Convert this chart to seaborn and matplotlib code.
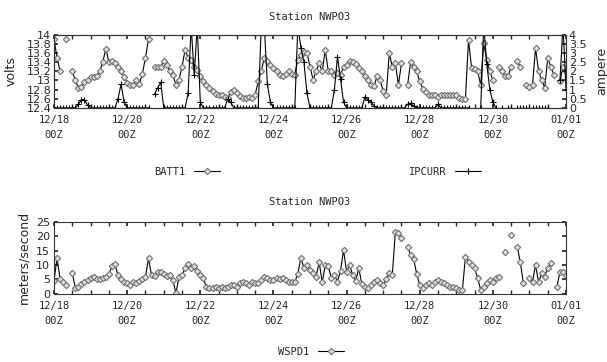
import numpy as np
import pandas as pd
import matplotlib
matplotlib.use("Agg")
import matplotlib.pyplot as plt
from matplotlib.lines import Line2D
from matplotlib.ticker import MultipleLocator, FormatStrFormatter
import seaborn as sns

nan = np.nan

# Station readings, one every two hours starting 12/18 00Z
station = "Station NWPO3"
day_labels = ["12/18", "12/20", "12/22", "12/24", "12/26", "12/28", "12/30", "01/01"]
hours = np.arange(0, 337, 2)

# battery voltage (volts)
batt1 = [
    13.9, 13.5, 13.2, nan, 13.9, nan, 13.2, 13.0, 12.83, 12.86, 12.97, 13.02,       # 12/18
    13.07, 13.08, 13.1, 13.2, 13.4, 13.7, 13.4, 13.42, 13.38, 13.3, 13.2, 13.08,     # 12/19
    12.95, 12.9, 12.9, 13.0, 12.93, 13.15, 13.5, 13.9, nan, 13.3, 13.3, 13.3,        # 12/20
    13.42, 13.35, 13.2, 13.13, 12.9, 13.02, 13.3, 13.67, 13.5, 13.45, 13.3, 13.22,   # 12/21
    13.09, 12.98, 12.9, 12.84, 12.77, 12.7, 12.69, 12.68, 12.64, 12.62, 12.75, 12.8, # 12/22
    12.72, 12.65, 12.62, 12.62, 12.63, 12.62, 12.69, 12.98, 13.2, 13.5, 13.42, 13.35,# 12/23
    13.27, 13.2, 13.13, 13.09, 13.15, 13.2, 13.15, 13.13, 13.45, 13.55, 13.62, 13.6, # 12/24
    13.3, 13.02, 13.2, 13.38, 13.2, 13.67, 13.2, 13.2, 13.13, 13.16, 13.13, 13.3,    # 12/25
    13.35, 13.42, 13.4, 13.36, 13.28, 13.2, 13.1, 13.02, 12.9, 12.87, 13.1, 13.0,    # 12/26
    12.78, 12.69, 13.6, 13.3, 13.38, 12.9, 13.38, nan, 12.9, 13.4, 13.3, 13.2,       # 12/27
    12.98, 12.82, 12.74, 12.69, 12.69, 12.69, 12.64, 12.69, 12.69, 12.69, 12.69, 12.69, # 12/28
    12.69, 12.62, 12.6, 12.6, 13.89, 13.28, 13.25, 13.2, 12.9, 13.82, 13.45, 13.2,   # 12/29
    13.0, nan, 13.3, 13.2, 13.1, 13.1, 13.3, nan, 13.42, 13.3, nan, 12.9,            # 12/30
    12.85, 12.9, 13.71, 13.2, 13.02, 12.84, 13.49, 13.3, 13.13, nan, 12.98, 13.3,    # 12/31
    13.2,                                                                             # 01/01
]

# charging current (ampere)
ipcurr = [
    0, 0, 0, 0, 0, 0, 0, 0, 0.2, 0.45, 0.45, 0.15,
    0, 0, 0, 0, 0, 0, 0, 0, 0, 0.5, 1.3, 0.3,
    0, 0, 0, 0, 0, 0, 0, 0, nan, 0.75, 1.1, 1.4,
    0, 0, 0, 0, 0, 0, 0, 0, 0.8, 4.5, 1.8, 4.5,
    0.3, 0, 0, 0, 0, 0, 0, 0, 0, 0.5, 0.3, 0,
    0, 0, 0, 0, 0, 0, 0, 0, 4.5, 4.5, 1.3, 0.3,
    0, 0, 0, 0, 0, 0, 0, 0, 4.5, 3.3, 2.5, 0.8,
    0, 0, 0, 0, 0, 0, 0, 0, 1.0, 2.8, 1.6, 0.3,
    0, 0, 0, 0, 0, 0, 0.6, 0.45, 0.3, 0.1, 0, 0,
    0, 0, 0, 0, 0, 0, 0, 0, 0.2, 0.25, 0.1, 0,
    0, 0, 0, 0, 0, 0, 0.2, 0, 0, 0, 0, 0,
    0, 0, 0, 0, 0, nan, nan, nan, 0, 4.5, 2.4, 1.0,
    0.3, 0, nan, 0, nan, 0, 0, nan, 0, 0, 0, 0,
    0, 0, 0, 0, 0, 0, 0, nan, nan, nan, 1.5, 4.5,
    1.0,
]

# wind speed (meters/second)
wspd1 = [
    4.5, 12.5, 5.0, 4.3, 3.1, nan, 7.1, 2.0, 2.5, 3.5, 4.3, 4.8,
    5.5, 6.0, 5.2, 5.3, 5.5, 6.0, 7.0, 9.5, 10.2, 6.5, 5.3, 4.3,
    3.7, 3.1, 4.0, 3.7, 4.5, 5.2, 6.0, 12.3, 6.5, 6.3, 7.5, 7.7,
    7.0, 6.2, 6.5, 4.8, 0.3, 5.9, 6.5, 8.9, 10.5, 9.0, 9.5, 8.0,
    6.5, 5.4, 2.3, 2.0, 2.0, 2.5, 2.0, 2.5, 2.0, 2.5, 3.1, 3.1,
    2.5, 3.8, 4.3, 3.7, 3.2, 4.3, 3.8, 3.7, 4.8, 6.0, 5.4, 4.8,
    4.8, 5.4, 5.3, 5.5, 4.8, 4.3, 4.3, 4.2, 7.0, 12.5, 9.0, 10.0,
    8.3, 7.1, 6.0, 11.0, 4.0, 10.0, 9.5, 5.6, 6.5, 4.3, 8.0, 15.2,
    7.7, 10.0, 6.5, 4.5, 8.9, 3.5, 2.5, 2.0, 3.0, 4.3, 4.8, 3.7,
    3.1, 5.0, 7.1, 6.6, 21.5, 21.0, 19.2, nan, 16.4, 13.5, 12.0, 7.0,
    3.1, 2.0, 3.0, 3.7, 3.1, 4.2, 4.8, 4.3, 3.7, 3.1, 2.5, 2.5,
    2.0, 1.4, 1.4, 12.9, 11.2, 10.0, 8.9, 5.5, 1.4, 2.5, 3.7, 4.8,
    4.3, 5.4, 5.8, nan, 14.5, nan, 20.4, nan, 16.4, 11.0, 3.7, nan,
    5.4, 4.3, 10.0, 4.0, 7.1, 6.0, 8.9, 10.6, nan, 2.5, 7.5, 7.7,
    6.6,
]

DIAMOND = dict(marker="D", markersize=3.2, markerfacecolor="#e0e0e0",
               markeredgecolor="#707070", markeredgewidth=0.8)
PLUS = dict(marker="+", markersize=5, markeredgecolor="black", markeredgewidth=0.8)
MONO = "DejaVu Sans Mono"


def draw(ax, values, style):
    # missing readings break the line, so each unbroken run is its own unit
    df = pd.DataFrame({"t": hours, "v": values})
    df["seg"] = df["v"].isna().cumsum()
    df = df.dropna()
    sns.lineplot(data=df, x="t", y="v", units="seg", estimator=None, ax=ax,
                 color="black", linewidth=0.8, legend=False, **style)


def style_x(ax):
    ax.set_xlim(0, 336)
    ticks = np.arange(0, 337, 48)
    ax.set_xticks(ticks, [f"{d}\n00Z" for d in day_labels])
    ax.xaxis.set_minor_locator(MultipleLocator(12))
    for lab in ax.get_xticklabels():
        lab.set_linespacing(1.7)
        lab.set_fontfamily(MONO)
    ax.set_xlabel("")
    ax.tick_params(axis="x", which="both", direction="in", top=True, length=3,
                   pad=5, labelsize=7.5)


def main():
    sns.set_theme(style="ticks")
    plt.rcParams["font.family"] = ["DejaVu Sans"]
    plt.rcParams["font.size"] = 7.5
    plt.rcParams["axes.linewidth"] = 0.8

    fig = plt.figure(figsize=(6.07, 3.62), dpi=100)
    ax1 = fig.add_axes([0.089, 0.702, 0.8435, 0.2017])
    ax2 = ax1.twinx()
    ax3 = fig.add_axes([0.089, 0.188, 0.8435, 0.1997])

    # === top panel: battery and current ===
    draw(ax2, ipcurr, PLUS)
    draw(ax1, batt1, DIAMOND)
    ax1.set_ylim(12.4, 14)
    ax1.yaxis.set_major_locator(MultipleLocator(0.2))
    ax1.yaxis.set_major_formatter(FormatStrFormatter("%g"))
    ax2.set_ylim(0, 4)
    ax2.yaxis.set_major_locator(MultipleLocator(0.5))
    ax2.yaxis.set_major_formatter(FormatStrFormatter("%g"))
    ax1.set_ylabel("volts", fontsize=9, labelpad=6)
    ax2.set_ylabel("ampere", fontsize=9, labelpad=6)
    ax1.tick_params(axis="y", direction="in", length=3, labelsize=8, pad=2)
    ax2.tick_params(axis="y", direction="in", length=3, labelsize=8, pad=2)
    style_x(ax1)
    ax1.set_title(station, fontsize=7.5, fontfamily=MONO, pad=11)

    # === bottom panel: wind speed ===
    draw(ax3, wspd1, DIAMOND)
    ax3.set_ylim(0, 25)
    ax3.yaxis.set_major_locator(MultipleLocator(5))
    ax3.set_ylabel("meters/second", fontsize=9, labelpad=4)
    ax3.tick_params(axis="y", direction="in", length=3, labelsize=8, right=True, pad=3)
    style_x(ax3)
    ax3.set_title(station, fontsize=7.5, fontfamily=MONO, pad=12)

    for ax in (ax1, ax2, ax3):
        for s in ax.spines.values():
            s.set_color("#333333")

    # legends sit under each panel, text first then sample
    entries = [("BATT1", DIAMOND, 187, 172), ("IPCURR", PLUS, 445, 172), ("WSPD1", DIAMOND, 311, 352)]
    for name, style, px, py in entries:
        h = Line2D([], [], color="black", linewidth=0.8, **style)
        fig.legend(handles=[h], labels=[name], loc="center", frameon=False,
                   bbox_to_anchor=(px / 607, 1 - py / 362), markerfirst=False,
                   handlelength=2.5, prop={"family": MONO, "size": 7.5})

    fig.savefig("out.png", dpi=100)


if __name__ == "__main__":
    main()
